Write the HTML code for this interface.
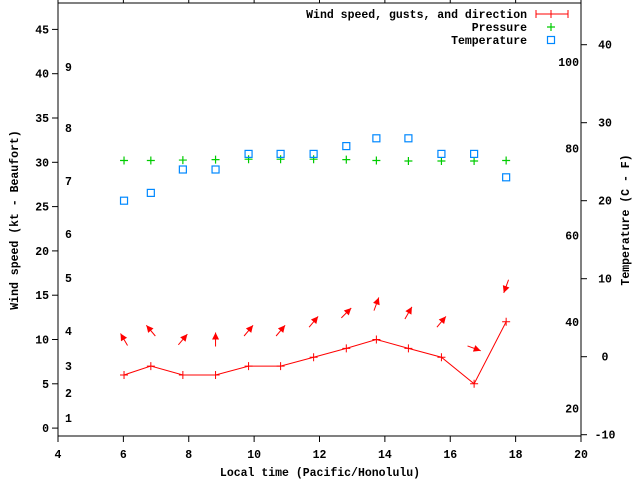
<!DOCTYPE html>
<html><head><meta charset="utf-8"><style>
html,body{margin:0;padding:0;background:#fff;}
svg text{font-family:"Liberation Mono",monospace;font-weight:bold;font-size:11.5px;fill:#000;}
</style></head><body>
<svg id="chart" width="640" height="480" xmlns="http://www.w3.org/2000/svg">
<g id="axes"></g>
<g id="marks"></g>
<g id="legend"></g>
</svg>
<script>
const times = [6.02,6.84,7.82,8.82,9.83,10.81,11.82,12.82,13.74,14.72,15.73,16.73,17.71];
const windKt = [6,7,6,6,7,7,8,9,10,9,8,5,12];
const windFromDeg = [150,140,220,180,220,220,220,225,200,210,220,290,20];
const pressure = [30.2,30.2,30.25,30.3,30.35,30.35,30.35,30.3,30.2,30.15,30.15,30.15,30.2];
const tempC = [20,21,24,24,26,26,26,27,28,28,26,26,23];
const xTicks = [4,6,8,10,12,14,16,18,20];
const yTicks = [0,5,10,15,20,25,30,35,40,45];
const y2Ticks = [-10,0,10,20,30,40];
const fLabels = [20,40,60,80,100];
const beaufortLabels = [["1",418],["2",393],["3",366],["4",331],["5",278],["6",234],["7",181],["8",128],["9",67]];

const L=58,R=581,T=3,B=436;
const X=v=>L+(v-4)*(R-L)/16;
const Y=v=>428.1-8.86*v;
const Y2=c=>356.7-7.8*c;
const NS="http://www.w3.org/2000/svg";
function mk(tag,attrs,parent,txt){const e=document.createElementNS(NS,tag);for(const k in attrs)e.setAttribute(k,attrs[k]);if(txt!==undefined)e.textContent=txt;parent.appendChild(e);return e;}
const ax=document.getElementById('axes'),mg=document.getElementById('marks'),lg=document.getElementById('legend');

let b=mk('rect',{x:L,y:T,width:R-L,height:B-T,fill:'none',stroke:'#000','stroke-width':1},ax);

xTicks.forEach(v=>{const x=X(v);
 mk('line',{x1:x,y1:B,x2:x,y2:B+6,stroke:'#000'},ax);
 mk('line',{x1:x,y1:T,x2:x,y2:T-6,stroke:'#000'},ax);
 let t=mk('text',{x:x,y:B+22,'text-anchor':'middle'},ax,String(v));
 });
yTicks.forEach(v=>{const y=Y(v);
 mk('line',{x1:L-6,y1:y,x2:L,y2:y,stroke:'#000'},ax);
 let t=mk('text',{x:L-9,y:y+4,'text-anchor':'end'},ax,String(v));
 });
y2Ticks.forEach(v=>{const y=Y2(v);
 mk('line',{x1:R,y1:y,x2:R+6,y2:y,stroke:'#000'},ax);
 let t=mk('text',{x:R+24,y:y+4,'text-anchor':'middle'},ax,String(v));
 });
fLabels.forEach(f=>{const y=Y2((f-32)*5/9);
 let t=mk('text',{x:R-2,y:y+4,'text-anchor':'end'},ax,String(f));
 });
beaufortLabels.forEach(([s,y])=>{
 let t=mk('text',{x:65,y:y+4},ax,s);
 });
let xt=mk('text',{x:320,y:476,'text-anchor':'middle'},ax,'Local time (Pacific/Honolulu)');

let yt=mk('text',{x:18,y:220,'text-anchor':'middle',transform:'rotate(-90 18 220)'},ax,'Wind speed (kt - Beaufort)');

let y2t=mk('text',{x:629,y:220,'text-anchor':'middle',transform:'rotate(-90 629 220)'},ax,'Temperature (C - F)');


// wind line
let pts=times.map((t,i)=>X(t)+','+Y(windKt[i])).join(' ');
let wl=mk('polyline',{points:pts,fill:'none',stroke:'#f00','stroke-width':1},mg);

times.forEach((t,i)=>{const x=X(t),y=Y(windKt[i]);
 let p=mk('path',{d:`M${x-4},${y}h8M${x},${y-4}v8`,stroke:'#f00'},mg);
 
 // direction arrow centred at wind+4 kt
 const cx=x,cy=Y(windKt[i]+4),len=14;
 const to=(windFromDeg[i]+180)*Math.PI/180;
 const dx=Math.sin(to),dy=-Math.cos(to);
 const x1=cx-dx*len/2,y1=cy-dy*len/2,x2=cx+dx*len/2,y2=cy+dy*len/2;
 const g=mk('g',{},mg);
 
 mk('line',{x1:x1,y1:y1,x2:x2,y2:y2,stroke:'#f00','stroke-width':1},g);
 const hl=7,hw=3.5,bx=x2-dx*hl,by=y2-dy*hl;
 mk('polygon',{points:`${x2},${y2} ${bx-dy*hw},${by+dx*hw} ${bx+dy*hw},${by-dx*hw}`,fill:'#f00'},g);
 // pressure
 const py=Y(pressure[i]);
 let pp=mk('path',{d:`M${x-4},${py}h8M${x},${py-4}v8`,stroke:'#0c0','stroke-width':1.2},mg);
 
 // temperature
 const ty=Y2(tempC[i]);
 let tp=mk('rect',{x:x-3.5,y:ty-3.5,width:7,height:7,fill:'none',stroke:'#08f','stroke-width':1.2},mg);
 
});

// legend
const lx=527,mx=551;
let e1=mk('text',{x:lx,y:18,'text-anchor':'end'},lg,'Wind speed, gusts, and direction');

let m1=mk('path',{d:`M536,14h32M536,10v8M568,10v8M${mx},10v8`,stroke:'#f00'},lg);

let e2=mk('text',{x:lx,y:31,'text-anchor':'end'},lg,'Pressure');

let m2=mk('path',{d:`M${mx-4},27h8M${mx},23v8`,stroke:'#0c0','stroke-width':1.2},lg);

let e3=mk('text',{x:lx,y:44,'text-anchor':'end'},lg,'Temperature');

let m3=mk('rect',{x:mx-3.5,y:36.5,width:7,height:7,fill:'none',stroke:'#08f','stroke-width':1.2},lg);

</script>
</body></html>
